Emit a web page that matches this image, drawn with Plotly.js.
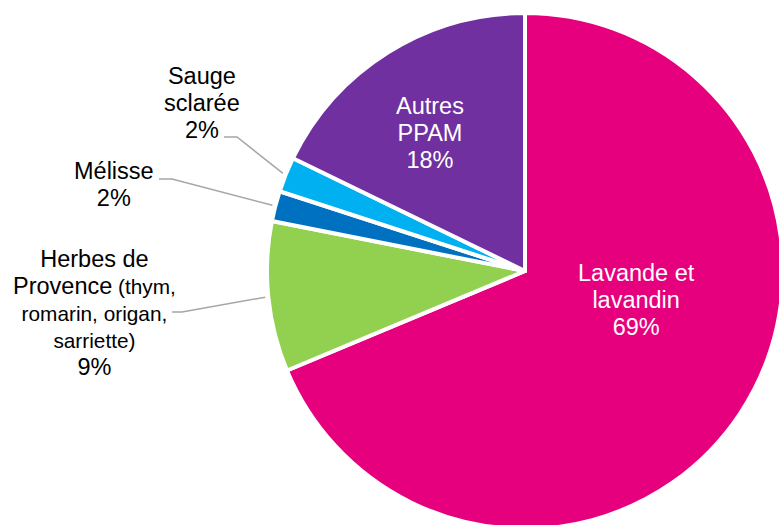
<!DOCTYPE html>
<html>
<head>
<meta charset="utf-8">
<script src="https://cdn.plot.ly/plotly-3.0.1.min.js"></script>
<style>
  html, body { margin: 0; padding: 0; overflow: hidden; background: #fff; }
  #chart { width: 800px; height: 540px; }
</style>
</head>
<body>
<div id="chart"></div>
<script>
// ---- data ----
const categories = ["Lavande et lavandin", "Herbes de Provence (thym, romarin, origan, sarriette)", "Mélisse", "Sauge sclarée", "Autres PPAM"];
const values = [68.7, 9.4, 1.9, 2.2, 17.8];
const colors = ["#E6007E", "#92D050", "#0070C0", "#00B0F0", "#7030A0"];
// label lines (big text, small text after it on the same line)
const labelLines = [
  [["Lavande et", ""], ["lavandin", ""]],
  [["Herbes de", ""], ["Provence", " (thym,"], ["", "romarin, origan,"], ["", "sarriette)"]],
  [["Mélisse", ""]],
  [["Sauge", ""], ["sclarée", ""]],
  [["Autres", ""], ["PPAM", ""]]
];

// ---- layout geometry (pixels) ----
const W = 800, H = 540;
const CX = 525, CY = 271, R = 258;
const BIG = 23.5, SMALL = 20.8;
const px = x => x / W;
const py = y => 1 - y / H;

// label centres and leader line elbows (layout positions)
const labelPos = [
  {x: 636, y: 300, inside: true},
  {x: 94, y: 313, inside: false, attach: [172, 312], elbow: [182, 312]},
  {x: 114, y: 185, inside: false, attach: [159, 179], elbow: [172, 179]},
  {x: 202, y: 103, inside: false, attach: [224, 137], elbow: [237, 137]},
  {x: 430, y: 133, inside: true}
];

const total = values.reduce((a, b) => a + b, 0);
const big = s => s ? `<span style="font-size:${BIG}px">${s}</span>` : '';
let cum = 0;
const annotations = [];
const shapes = [];
values.forEach((v, i) => {
  const mid = (cum + v / 2) / total * 2 * Math.PI;
  cum += v;
  const lp = labelPos[i];
  const pct = Math.round(v / total * 100) + '%';
  const lines = labelLines[i].map(([b, s]) => big(b) + s);
  lines.push(big(pct));
  annotations.push({
    xref: 'paper', yref: 'paper', x: px(lp.x), y: py(lp.y),
    xanchor: 'center', yanchor: 'middle', showarrow: false,
    text: lines.join('<br>'), align: 'center',
    font: {family: 'Liberation Sans, Arial, sans-serif', size: SMALL, color: lp.inside ? '#ffffff' : '#000000'}
  });
  if (!lp.inside) {
    const ex = CX + (R + 3) * Math.sin(mid);
    const ey = CY - (R + 3) * Math.cos(mid);
    shapes.push({
      type: 'path', xref: 'paper', yref: 'paper',
      path: `M ${px(lp.attach[0])} ${py(lp.attach[1])} L ${px(lp.elbow[0])} ${py(lp.elbow[1])} L ${px(ex)} ${py(ey)}`,
      line: {color: '#A6A6A6', width: 1.5}
    });
  }
});

const trace = {
  type: 'pie',
  labels: categories,
  values: values,
  sort: false,
  direction: 'clockwise',
  rotation: 0,
  marker: {colors: colors, line: {color: '#ffffff', width: 4}},
  textinfo: 'none',
  hoverinfo: 'skip',
  domain: {x: [px(CX - R), px(CX + R)], y: [py(CY + R), py(CY - R)]}
};

const layout = {
  width: W, height: H,
  margin: {l: 0, r: 0, t: 0, b: 0},
  paper_bgcolor: '#ffffff',
  showlegend: false,
  annotations: annotations,
  shapes: shapes
};

Plotly.newPlot('chart', [trace], layout, {staticPlot: true, displayModeBar: false});
</script>
</body>
</html>
